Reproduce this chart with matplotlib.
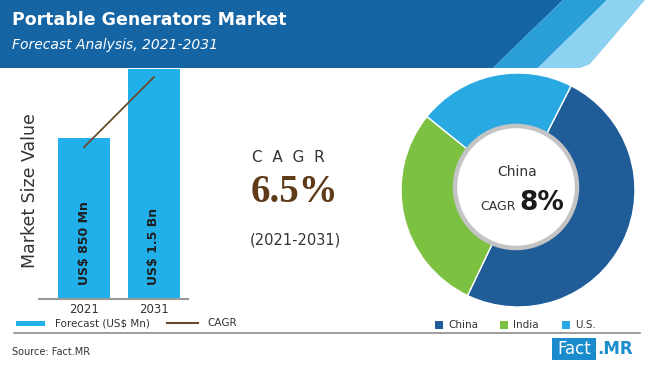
import numpy as np
import matplotlib
matplotlib.use("Agg")
import matplotlib.pyplot as plt
from matplotlib.patches import Polygon, Rectangle, Circle

# ==========================================
# DATA
# ==========================================

years = ["2021", "2031"]
bar_heights = [0.70, 1.0]          # relative bar heights as drawn
bar_labels = ["US$ 850 Mn", "US$ 1.5 Bn"]
cagr_line = [0.66, 0.965]

regions = ["China", "India", "U.S."]
region_share = [49.6, 28.7, 21.7]
region_colors = ["#1f5c98", "#7cc142", "#29a9e1"]

W, H = 650, 369
BAR_BLUE = "#22b0ea"
BROWN = "#6b4a2b"

fig = plt.figure(figsize=(W / 100, H / 100), dpi=100)


def px_box(x0, y0, x1, y1):
    # pixel box (top-left origin) -> figure fraction rect
    return [x0 / W, (H - y1) / H, (x1 - x0) / W, (y1 - y0) / H]


# ==========================================
# BAR CHART
# ==========================================

ax = fig.add_axes(px_box(39, 69, 188, 299))
x = np.arange(len(years))
ax.bar(x, bar_heights, width=0.74, color=BAR_BLUE, zorder=2)
ax.plot(x, cagr_line, color=BROWN, lw=1.3, zorder=3)
for xi, lab in zip(x, bar_labels):
    ax.text(xi, 0.06, lab, rotation=90, ha="center", va="bottom",
            fontsize=9, fontweight="bold", color="#1e1e1e", zorder=4)
ax.set_xlim(-0.643, 1.486)
ax.set_ylim(0, 1)
ax.set_xticks(x)
ax.set_xticklabels(years, fontsize=8.5, color="#333333")
ax.tick_params(axis="x", length=0, pad=3)
ax.set_yticks([])
for s in ["top", "right", "left"]:
    ax.spines[s].set_visible(False)
ax.spines["bottom"].set_color("#9a9a9a")
ax.spines["bottom"].set_linewidth(1.5)

# ==========================================
# DONUT
# ==========================================

axp = fig.add_axes(px_box(401, 73, 635, 307))
axp.pie(region_share, colors=region_colors, startangle=63, counterclock=False,
        radius=1.0, wedgeprops=dict(width=0.55, edgecolor="white", linewidth=1))
axp.set_xlim(-1, 1)
axp.set_ylim(-1, 1)
axp.set_aspect("equal")
axp.axis("off")

# ==========================================
# OVERLAY (header, texts, legends)
# ==========================================

ov = fig.add_axes([0, 0, 1, 1], zorder=10)
ov.set_xlim(0, W)
ov.set_ylim(H, 0)
ov.axis("off")
ov.patch.set_visible(False)

ov.add_patch(Polygon([(0, 0), (563, 0), (493, 68), (0, 68)], closed=True,
                     color="#1565a5", lw=0))
ov.add_patch(Polygon([(563, 0), (607, 0), (538, 68), (493, 68)], closed=True,
                     color="#2a9fd7", lw=0))
ov.add_patch(Polygon([(607, 0), (645, 0), (590, 64), (580, 68), (538, 68)],
                     closed=True, color="#8dd3f1", lw=0))

ov.text(12, 20, "Portable Generators Market", fontsize=12.5, fontweight="bold",
        color="white", va="center", ha="left")
ov.text(12, 45, "Forecast Analysis, 2021-2031", fontsize=10, style="italic",
        color="white", va="center", ha="left")

ov.text(30, 191, "Market Size Value", rotation=90, fontsize=12.5,
        color="#333333", ha="center", va="center")

# middle CAGR block
ov.text(288, 157, "C  A  G  R", fontsize=11, color="#333333",
        ha="center", va="center")
ov.text(294, 193, "6.5%", fontsize=28, fontweight="bold",
        family="Liberation Serif", color="#5f3b19", ha="center", va="center")
ov.text(295, 240, "(2021-2031)", fontsize=10.5, color="#333333",
        ha="center", va="center")

# donut centre
ov.add_patch(Circle((516, 187), 61, facecolor="white", edgecolor="#c4c4c4",
                    lw=3.2))
ov.text(517, 172, "China", fontsize=10, color="#333333", ha="center",
        va="center")
ov.text(516, 206, "CAGR", fontsize=9, color="#333333", ha="right",
        va="center")
ov.text(519, 203, "8%", fontsize=19, fontweight="bold", color="#1a1a1a",
        ha="left", va="center")

# bar legend
ov.add_patch(Rectangle((16, 320.5), 29, 5, color=BAR_BLUE, lw=0))
ov.text(55, 323, "Forecast (US$ Mn)", fontsize=7.5, color="#333333",
        va="center")
ov.plot([167, 198], [323, 323], color=BROWN, lw=1.5)
ov.text(207, 323, "CAGR", fontsize=7.5, color="#333333", va="center")

# donut legend
for xs, lab, col in zip([435, 500, 562], regions, region_colors):
    ov.add_patch(Rectangle((xs, 321), 8, 8, color=col, lw=0))
    ov.text(xs + 13, 325, lab, fontsize=7.5, color="#333333", va="center")

# bottom rule and footer
ov.plot([14, 640], [333, 333], color="#8c8c8c", lw=1.2)
ov.text(12, 352, "Source: Fact.MR", fontsize=7, color="#333333", va="center")
ov.add_patch(Rectangle((552, 338), 44, 22, color="#1a8ccd", lw=0))
ov.text(574, 349, "Fact", fontsize=12, color="white", ha="center",
        va="center")
ov.text(597, 349, ".MR", fontsize=12, fontweight="bold", color="#1a8ccd",
        ha="left", va="center")

fig.savefig("out.png", dpi=100)
